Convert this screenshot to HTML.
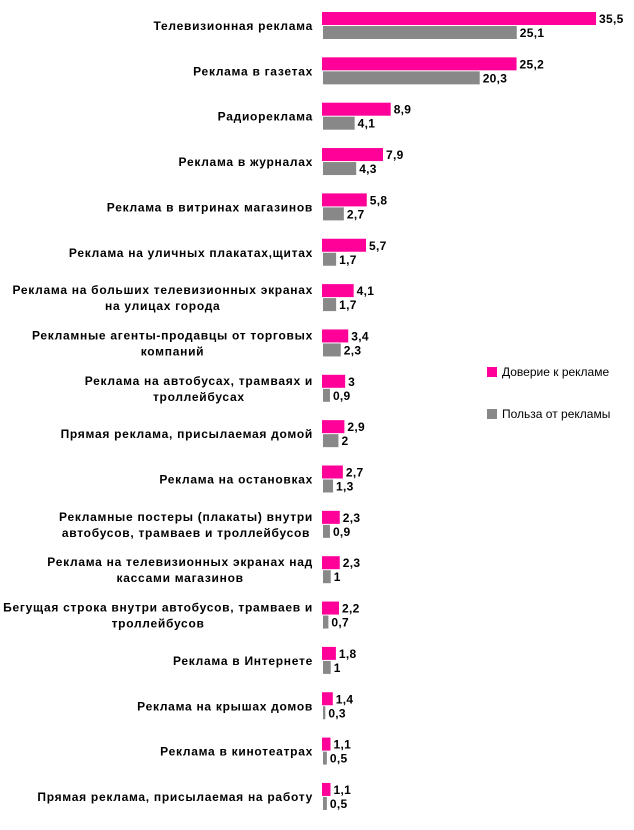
<!DOCTYPE html>
<html><head><meta charset="utf-8">
<style>
body{margin:0;background:#fff;width:634px;height:825px;overflow:hidden;font-family:"Liberation Sans",Arial,sans-serif;}
svg text{font-family:"Liberation Sans",Arial,sans-serif;font-weight:bold;font-size:12px;fill:#000;}
svg text.cat{letter-spacing:0.72px;}
svg text.val{letter-spacing:0.3px;}
</style></head>
<body>
<svg id="chart" width="634" height="825" xmlns="http://www.w3.org/2000/svg">
<g id="legend">
<rect x="487" y="367" width="10" height="10" fill="#FF0099"/>
<text x="502" y="376" style="font-weight:normal">Доверие к рекламе</text>
<rect x="487" y="409" width="10" height="10" fill="#888888"/>
<text x="502" y="418" style="font-weight:normal">Польза от рекламы</text>
</g>
</svg>
<script>
const categories=[
["Телевизионная реклама"],["Реклама в газетах"],["Радиореклама"],["Реклама в журналах"],
["Реклама в витринах магазинов"],["Реклама на уличных плакатах,щитах"],
["Реклама на больших телевизионных экранах","на улицах города"],
["Рекламные агенты-продавцы от торговых","компаний"],
["Реклама на автобусах, трамваях и","троллейбусах"],
["Прямая реклама, присылаемая домой"],["Реклама на остановках"],
["Рекламные постеры (плакаты) внутри","автобусов, трамваев и троллейбусов"],
["Реклама на телевизионных экранах над","кассами магазинов"],
["Бегущая строка внутри автобусов, трамваев и","троллейбусов"],
["Реклама в Интернете"],["Реклама на крышах домов"],["Реклама в кинотеатрах"],
["Прямая реклама, присылаемая на работу"]];
const trustValues=[35.5,25.2,8.9,7.9,5.8,5.7,4.1,3.4,3,2.9,2.7,2.3,2.3,2.2,1.8,1.4,1.1,1.1];
const useValues=[25.1,20.3,4.1,4.3,2.7,1.7,1.7,2.3,0.9,2,1.3,0.9,1,0.7,1,0.3,0.5,0.5];
const svg=document.getElementById('chart');
const NS='http://www.w3.org/2000/svg';
const x0=322, k=7.72, rowTop=12, rowStep=45.35, barH=13, labelRight=313;
const xs=v=>v*k;
const fmt=v=>String(v).replace('.',',');
function mk(tag,attrs){const e=document.createElementNS(NS,tag);for(const a in attrs)e.setAttribute(a,attrs[a]);svg.appendChild(e);return e;}
categories.forEach((lines,i)=>{
  const y=rowTop+i*rowStep;
  const cy=y+barH;
  const t=mk('text',{'class':'cat','text-anchor':'middle'});
  
  
  const n=lines.length;
  const spans=lines.map((l,j)=>{const ts=document.createElementNS(NS,'tspan');ts.setAttribute('y',cy+5+(j-(n-1)/2)*16);ts.textContent=l;t.appendChild(ts);return ts;});
  let maxW=0;spans.forEach(s=>{maxW=Math.max(maxW,s.getComputedTextLength());});
  const cx=labelRight-maxW/2;
  spans.forEach(s=>s.setAttribute('x',cx));
  const b1=mk('rect',{x:x0,y:y,width:xs(trustValues[i]),height:barH,fill:'#FF0099'});
  
  
  const b2=mk('rect',{x:x0+1,y:y+14,width:xs(useValues[i]),height:barH,fill:'#888888'});
  
  
  const l1=mk('text',{'class':'val',x:x0+xs(trustValues[i])+3,y:y+11});
  l1.textContent=fmt(trustValues[i]);
  
  
  const l2=mk('text',{'class':'val',x:x0+1+xs(useValues[i])+3,y:y+25});
  l2.textContent=fmt(useValues[i]);
  
  
});
</script>
</body></html>
